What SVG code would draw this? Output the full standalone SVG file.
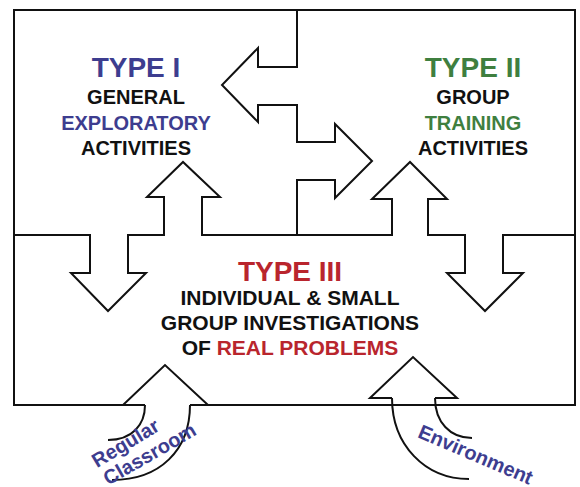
<svg xmlns="http://www.w3.org/2000/svg" width="580" height="487" viewBox="0 0 580 487">
<style>
.ln{fill:none;stroke:#111;stroke-width:2;stroke-linejoin:miter;stroke-linecap:butt}
text{font-family:"Liberation Sans",Arial,Helvetica,sans-serif;font-weight:bold;text-anchor:middle}
.big{font-size:28px}
.sub{font-size:20px;fill:#111}
.sub3{font-size:21px;fill:#111}
.blue{fill:#3d3d8f}
.green{fill:#3f7f3f}
.red{fill:#b9252d}
.lab{font-size:20px;fill:#3d3d8f}
</style>
<rect width="580" height="487" fill="#fff"/>
<g id="connectors">
  <path id="frame" class="ln" d="M145,405 H14 V10 H575 V405 H190"/>
  <path id="divider-vertical" class="ln" d="M297,10 V67 H258 V48 L222,85 L258,122 V105 H297 V142 H335 V124 L372,161 L335,198 V180 H297 V235"/>
  <path id="divider-horizontal" class="ln" d="M14,235 H90 V273 H71 L108,311 L146,273 H128 V235 H164 V197 H147 L183,162 L220,197 H202 V235 H392 V199 H372 L410,162 L447,199 H428 V235 H465 V273 H447 L485,311 L523,273 H503 V235 H575"/>
  <path id="arrow-classroom" class="ln" d="M145,405 H123 L165,365 L208,405 H190 M145,405 C145,425 132,440 108,440 M190,405 C190,450 160,480 112,480"/>
  <path id="arrow-environment" class="ln" d="M392,398 H370 L413,357 L457,398 H435 M392,398 C392,445 425,479 469,479 M435,398 C435,422 450,438 472,438"/>
</g>
<g id="type1">
  <text class="big blue" x="136" y="77">TYPE I</text>
  <text class="sub" x="136" y="104">GENERAL</text>
  <text class="sub blue" x="136" y="130">EXPLORATORY</text>
  <text class="sub" x="136" y="155">ACTIVITIES</text>
</g>
<g id="type2">
  <text class="big green" x="473" y="77">TYPE II</text>
  <text class="sub" x="473" y="104">GROUP</text>
  <text class="sub green" x="473" y="130">TRAINING</text>
  <text class="sub" x="473" y="155">ACTIVITIES</text>
</g>
<g id="type3">
  <text class="big red" x="290" y="281">TYPE III</text>
  <text class="sub3" x="290" y="305">INDIVIDUAL &amp; SMALL</text>
  <text class="sub3" x="290" y="330">GROUP INVESTIGATIONS</text>
  <text class="sub3" x="290" y="355">OF <tspan class="red">REAL PROBLEMS</tspan></text>
</g>
<g id="label-classroom">
  <text class="lab" transform="translate(129,449) rotate(-31)">Regular</text>
  <text class="lab" transform="translate(153,460) rotate(-30)">Classroom</text>
</g>
<g id="label-environment">
  <text class="lab" transform="translate(473,461) rotate(23)">Environment</text>
</g>
</svg>
